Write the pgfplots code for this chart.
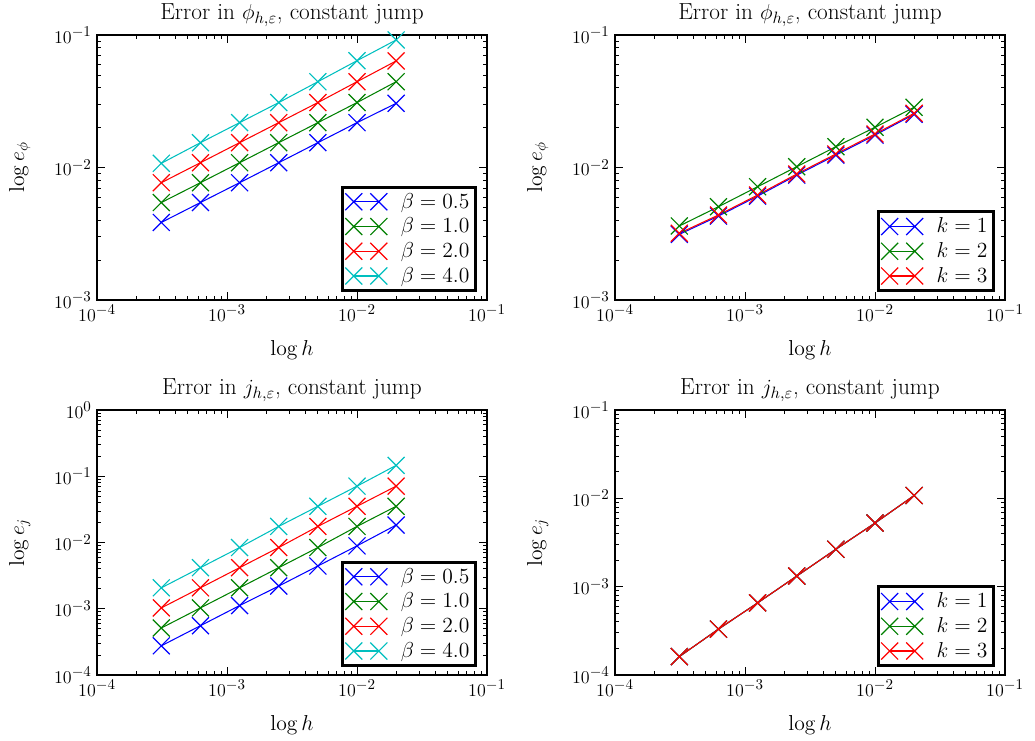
\documentclass[border=0pt]{standalone}
\usepackage{pgfplots}
\pgfplotsset{compat=1.18}
\definecolor{mgreen}{rgb}{0,0.5,0}
\definecolor{mcyan}{rgb}{0,0.75,0.75}
\pgfplotsset{
  log number format basis/.code 2 args={$#1^{\hbox{\fontsize{10}{12}\selectfont$\pgfmathprintnumber{#2}$}}$},
  legend image code/.code={\draw[mark repeat=1,mark phase=1,line width=0.7pt,#1,mark size=8pt] plot coordinates {(0pt,0pt) (16.7pt,0pt)};},
  every axis plot/.append style={line width=0.7pt, mark=x, mark size=8pt, mark options={line width=0.8pt}},
  every axis/.append style={
    scale only axis, width=260pt, height=176.67pt,
    xmin=1e-4, xmax=1e-1,
    axis line style={line width=1.9pt},
    tick align=inside, xtick pos=both, ytick pos=both,
    major tick length=5.5pt, minor tick length=2.8pt,
    every tick/.style={black, line width=0.5pt},
    tick label style={font=\fontsize{12}{14}\selectfont},
    title style={font=\fontsize{15.5}{18}\selectfont, yshift=-4pt},
    label style={font=\fontsize{14}{16}\selectfont},
    xlabel={$\log h$},
    xlabel shift=6pt, ylabel shift=9pt,
    legend cell align=left,
    legend style={at={(0.974,0.03)}, anchor=south east, draw=black, line width=1.9pt,
      font=\fontsize{14}{16}\selectfont, row sep=1pt, column sep=7pt, inner xsep=2pt, inner ysep=2pt},
  },
}
\begin{document}
\begin{tikzpicture}
\useasboundingbox (0,0) rectangle (690pt,493.33pt);
% Top-left
\begin{loglogaxis}[at={(64.67pt,293.33pt)}, anchor=south west,
  ymin=1e-3, ymax=1e-1, ylabel={$\log e_\phi$},
  title={Error in $\phi_{h,\varepsilon}$, constant jump}]
\addplot[blue] coordinates {(3.125e-4,0.00385) (6.25e-4,0.00544) (1.25e-3,0.00768) (2.5e-3,0.01087) (5e-3,0.0154) (1e-2,0.0218) (2e-2,0.0305)};
\addlegendentry{$\beta = 0.5$}
\addplot[mgreen] coordinates {(3.125e-4,0.00544) (6.25e-4,0.00768) (1.25e-3,0.01087) (2.5e-3,0.0154) (5e-3,0.0218) (1e-2,0.0309) (2e-2,0.0444)};
\addlegendentry{$\beta = 1.0$}
\addplot[red] coordinates {(3.125e-4,0.00768) (6.25e-4,0.01087) (1.25e-3,0.0154) (2.5e-3,0.0218) (5e-3,0.0309) (1e-2,0.0444) (2e-2,0.0637)};
\addlegendentry{$\beta = 2.0$}
\addplot[mcyan] coordinates {(3.125e-4,0.01076) (6.25e-4,0.01539) (1.25e-3,0.0218) (2.5e-3,0.0309) (5e-3,0.0444) (1e-2,0.0640) (2e-2,0.0917)};
\addlegendentry{$\beta = 4.0$}
\end{loglogaxis}
% Top-right
\begin{loglogaxis}[at={(410pt,293.33pt)}, anchor=south west,
  ymin=1e-3, ymax=1e-1, ylabel={$\log e_\phi$},
  title={Error in $\phi_{h,\varepsilon}$, constant jump}]
\addplot[blue] coordinates {(3.125e-4,0.00313) (6.25e-4,0.00430) (1.25e-3,0.00608) (2.5e-3,0.00876) (5e-3,0.0124) (1e-2,0.01755) (2e-2,0.0252)};
\addlegendentry{$k = 1$}
\addplot[mgreen] coordinates {(3.125e-4,0.00362) (6.25e-4,0.00506) (1.25e-3,0.00716) (2.5e-3,0.01014) (5e-3,0.01435) (1e-2,0.0201) (2e-2,0.02845)};
\addlegendentry{$k = 2$}
\addplot[red] coordinates {(3.125e-4,0.00319) (6.25e-4,0.00438) (1.25e-3,0.0062) (2.5e-3,0.00893) (5e-3,0.01265) (1e-2,0.0179) (2e-2,0.02565)};
\addlegendentry{$k = 3$}
\end{loglogaxis}
% Bottom-left
\begin{loglogaxis}[at={(64.67pt,43.33pt)}, anchor=south west,
  ymin=1e-4, ymax=1e0, ylabel={$\log e_j$},
  title={Error in $j_{h,\varepsilon}$, constant jump}]
\addplot[blue] coordinates {(3.125e-4,0.000276) (6.25e-4,0.000555) (1.25e-3,0.001117) (2.5e-3,0.0022) (5e-3,0.00442) (1e-2,0.0089) (2e-2,0.01834)};
\addlegendentry{$\beta = 0.5$}
\addplot[mgreen] coordinates {(3.125e-4,0.000512) (6.25e-4,0.00103) (1.25e-3,0.00207) (2.5e-3,0.00417) (5e-3,0.0084) (1e-2,0.0175) (2e-2,0.0352)};
\addlegendentry{$\beta = 1.0$}
\addplot[red] coordinates {(3.125e-4,0.00103) (6.25e-4,0.00207) (1.25e-3,0.00417) (2.5e-3,0.0084) (5e-3,0.0175) (1e-2,0.0352) (2e-2,0.0709)};
\addlegendentry{$\beta = 2.0$}
\addplot[mcyan] coordinates {(3.125e-4,0.00207) (6.25e-4,0.00417) (1.25e-3,0.0084) (2.5e-3,0.0175) (5e-3,0.0352) (1e-2,0.0709) (2e-2,0.146)};
\addlegendentry{$\beta = 4.0$}
\end{loglogaxis}
% Bottom-right
\begin{loglogaxis}[at={(410pt,43.33pt)}, anchor=south west,
  ymin=1e-4, ymax=1e-1, ylabel={$\log e_j$},
  title={Error in $j_{h,\varepsilon}$, constant jump}]
\addplot[blue] coordinates {(3.125e-4,0.0001616) (6.25e-4,0.000331) (1.25e-3,0.000655) (2.5e-3,0.001318) (5e-3,0.002654) (1e-2,0.00525) (2e-2,0.01077)};
\addlegendentry{$k = 1$}
\addplot[mgreen] coordinates {(3.125e-4,0.0001616) (6.25e-4,0.000331) (1.25e-3,0.000655) (2.5e-3,0.001318) (5e-3,0.002654) (1e-2,0.00525) (2e-2,0.01077)};
\addlegendentry{$k = 2$}
\addplot[red] coordinates {(3.125e-4,0.0001616) (6.25e-4,0.000331) (1.25e-3,0.000655) (2.5e-3,0.001318) (5e-3,0.002654) (1e-2,0.00525) (2e-2,0.01077)};
\addlegendentry{$k = 3$}
\end{loglogaxis}
\end{tikzpicture}
\end{document}
